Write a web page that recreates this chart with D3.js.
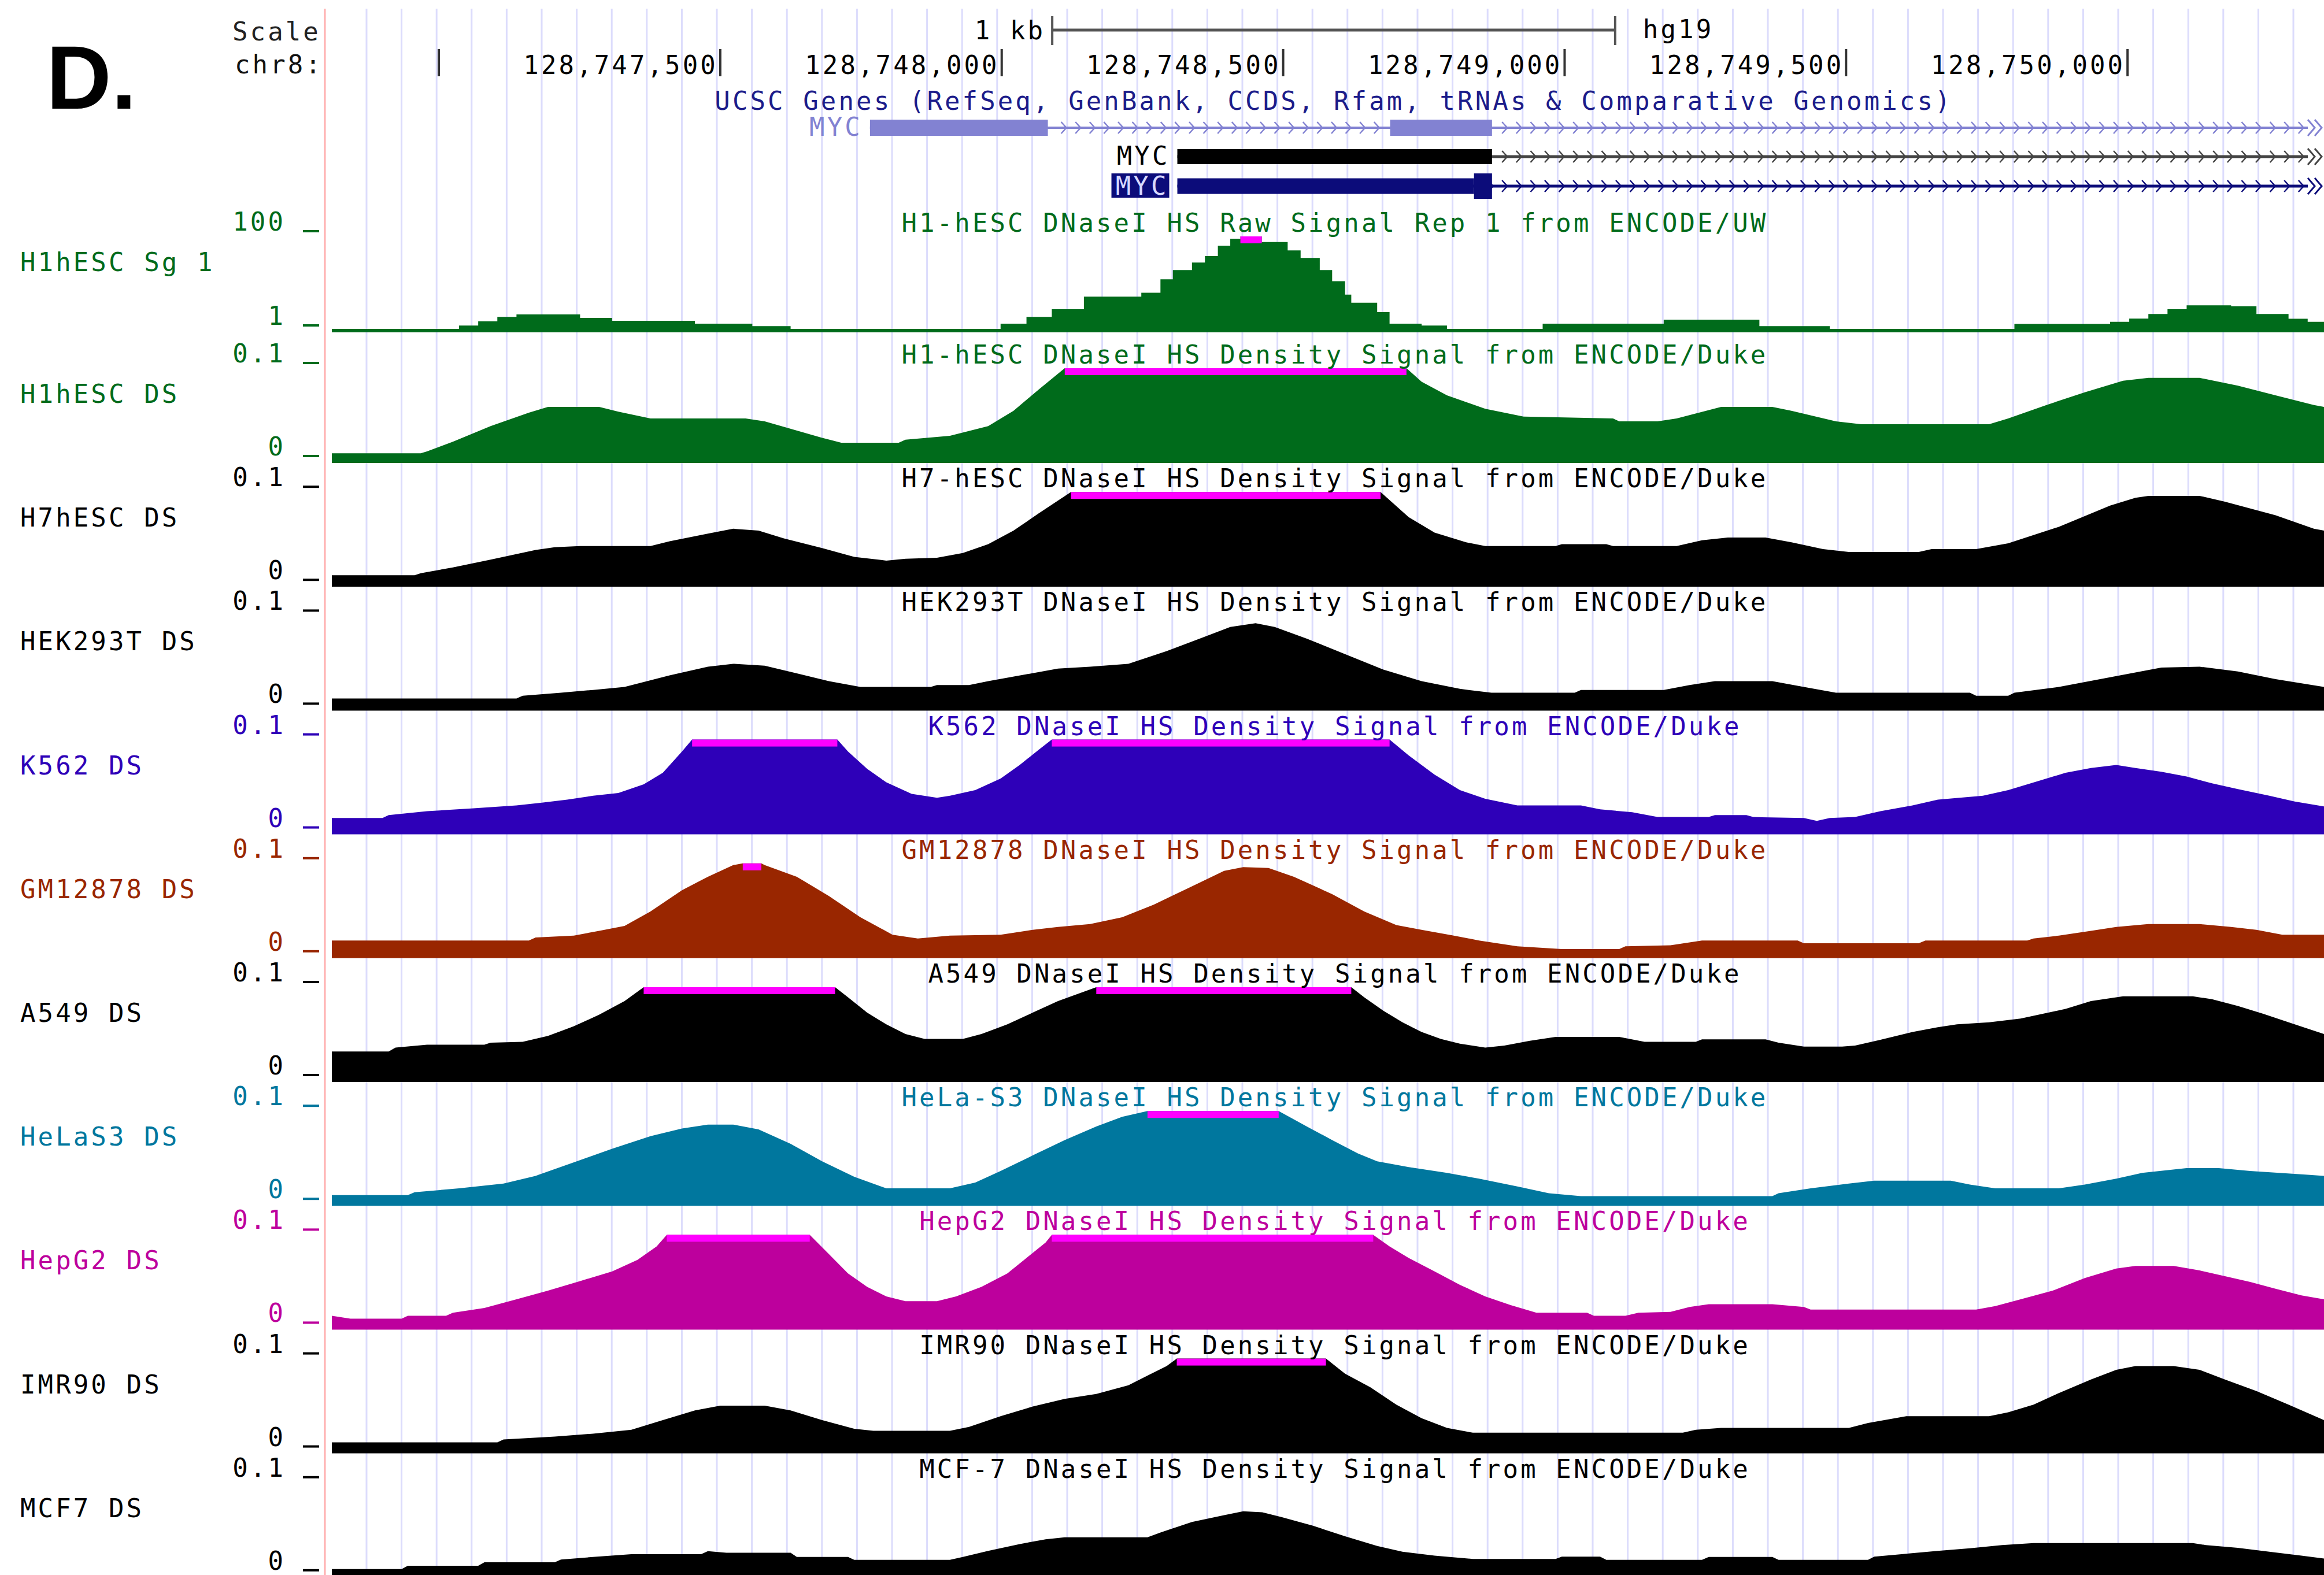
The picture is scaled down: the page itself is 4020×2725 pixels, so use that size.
<!DOCTYPE html>
<html>
<head>
<meta charset="utf-8">
<script src="https://cdn.jsdelivr.net/npm/d3@7"></script>
<style>
  body { margin: 0; background: #fff; }
  text { font-family: "DejaVu Sans Mono", monospace; font-size: 44px; letter-spacing: 4.1px; }
</style>
</head>
<body>
<svg id="chart" width="4020" height="2725"></svg>
<script>
// window on chr8 (hg19)
const winStart = 128746810;
const winEnd = 128750349;

const rulerTicks = [128747000, 128747500, 128748000, 128748500, 128749000, 128749500, 128750000];
const rulerLabels = ["", "128,747,500", "128,748,000", "128,748,500", "128,749,000", "128,749,500", "128,750,000"];

// gene models, positions in bp from winStart
const geneLabels = ["MYC", "MYC", "MYC"];
const geneExons = [[[956, 1272], [1880, 2061]], [[1502, 2061]], [[1502, 2029]]];
const geneCds = [[], [], [[2029, 2061]]];

const trackNames = ["H1hESC Sg 1", "H1hESC DS", "H7hESC DS", "HEK293T DS", "K562 DS", "GM12878 DS",
  "A549 DS", "HeLaS3 DS", "HepG2 DS", "IMR90 DS", "MCF7 DS"];
const trackTitles = [
  "H1-hESC DNaseI HS Raw Signal Rep 1 from ENCODE/UW",
  "H1-hESC DNaseI HS Density Signal from ENCODE/Duke",
  "H7-hESC DNaseI HS Density Signal from ENCODE/Duke",
  "HEK293T DNaseI HS Density Signal from ENCODE/Duke",
  "K562 DNaseI HS Density Signal from ENCODE/Duke",
  "GM12878 DNaseI HS Density Signal from ENCODE/Duke",
  "A549 DNaseI HS Density Signal from ENCODE/Duke",
  "HeLa-S3 DNaseI HS Density Signal from ENCODE/Duke",
  "HepG2 DNaseI HS Density Signal from ENCODE/Duke",
  "IMR90 DNaseI HS Density Signal from ENCODE/Duke",
  "MCF-7 DNaseI HS Density Signal from ENCODE/Duke"];
const trackColors = ["rgb(0,107,27)", "rgb(0,107,27)", "#000", "#000", "rgb(46,0,184)", "rgb(153,38,0)",
  "#000", "rgb(0,119,158)", "rgb(189,0,157)", "#000", "#000"];
const axisMax = [100, 0.1, 0.1, 0.1, 0.1, 0.1, 0.1, 0.1, 0.1, 0.1, 0.1];
const axisMin = [1, 0, 0, 0, 0, 0, 0, 0, 0, 0, 0];

// signals: [bp from winStart, value]
const h1Raw = [[0,1],[226,4.5],[260,9],[294,13.8],[328,16.5],[441,12.8],[498,9.7],[645,6.6],[747,3.9],[815,1],
  [1188,6.6],[1234,13.8],[1279,22],[1336,35.5],[1438,39.6],[1472,54],[1494,64],[1528,72],[1551,79],[1574,90],
  [1596,97.5],[1614,110],[1652,94],[1698,85],[1721,77],[1755,64],[1777,52],[1800,37.6],[1811,29],[1857,19],
  [1879,6.6],[1936,4.5],[1981,1],[2151,6.6],[2366,10.7],[2536,3.9],[2661,1],[2989,6.2],[3159,8.6],[3193,12],
  [3227,16.9],[3261,22],[3295,26.2],[3374,25.2],[3419,16.9],[3476,11.8],[3510,8.6],[3539,8.6]];
const h1DS = [[0,0.0102],[158,0.0102],[169,0.0122],[215,0.0224],[282,0.0388],[350,0.0531],[384,0.0592],[475,0.0592],
  [509,0.0541],[566,0.0469],[735,0.0469],[769,0.0439],[871,0.0265],[905,0.0214],[1007,0.0214],[1019,0.0245],
  [1098,0.0286],[1166,0.0388],[1211,0.0551],[1256,0.0776],[1302,0.105],[1909,0.105],[1936,0.0857],[1981,0.0714],
  [2049,0.0571],[2117,0.049],[2276,0.0469],[2287,0.0439],[2355,0.0439],[2389,0.0469],[2468,0.0592],[2559,0.0592],
  [2593,0.0551],[2672,0.0439],[2717,0.0408],[2944,0.0408],[2978,0.0469],[3046,0.0612],[3114,0.0745],[3182,0.0867],
  [3227,0.0898],[3318,0.0898],[3386,0.0816],[3453,0.0714],[3521,0.0612],[3539,0.0592]];
const h7DS = [[0,0.0122],[147,0.0122],[158,0.0143],[215,0.0204],[282,0.0286],[362,0.0388],[396,0.0418],[441,0.0429],
  [566,0.0429],[600,0.048],[668,0.0561],[713,0.0612],[758,0.0592],[803,0.051],[871,0.0408],[928,0.0316],[985,0.0276],
  [1019,0.0296],[1075,0.0306],[1121,0.0357],[1166,0.0449],[1211,0.0592],[1256,0.0776],[1313,0.105],[1863,0.105],
  [1913,0.0735],[1959,0.0571],[2015,0.0469],[2049,0.0429],[2174,0.0429],[2185,0.0449],[2264,0.0449],[2276,0.0429],
  [2389,0.0429],[2434,0.049],[2480,0.052],[2547,0.052],[2593,0.0469],[2649,0.0398],[2695,0.0367],[2819,0.0367],
  [2842,0.0398],[2921,0.0398],[2978,0.0459],[3068,0.0633],[3159,0.0857],[3204,0.0939],[3227,0.0959],[3318,0.0959],
  [3363,0.0898],[3453,0.0755],[3521,0.0612],[3539,0.0592]];
const hek293tDS = [[0,0.0127],[328,0.0127],[339,0.0157],[407,0.0188],[464,0.0218],[520,0.0249],[600,0.0371],
  [668,0.0463],[713,0.0494],[769,0.0473],[826,0.0392],[883,0.031],[939,0.0249],[1064,0.0249],[1075,0.0269],
  [1132,0.0269],[1166,0.031],[1290,0.0443],[1347,0.0463],[1415,0.0494],[1483,0.0627],[1551,0.078],[1596,0.0882],
  [1641,0.0922],[1675,0.0882],[1732,0.0759],[1800,0.0596],[1868,0.0433],[1936,0.031],[2004,0.0229],[2060,0.0188],
  [2208,0.0188],[2219,0.0218],[2366,0.0218],[2412,0.0269],[2457,0.031],[2559,0.031],[2615,0.0249],[2672,0.0188],
  [2910,0.0188],[2921,0.0157],[2978,0.0157],[2989,0.0188],[3068,0.0249],[3159,0.0351],[3250,0.0453],[3318,0.0463],
  [3386,0.0412],[3453,0.0331],[3539,0.0249]];
const k562DS = [[0,0.0173],[90,0.0173],[101,0.0203],[169,0.0244],[248,0.0274],[328,0.0305],[373,0.0335],[418,0.0366],
  [464,0.0407],[509,0.0437],[554,0.0528],[588,0.065],[622,0.0874],[640,0.105],[898,0.105],[917,0.0874],[951,0.0691],
  [985,0.0549],[1030,0.0427],[1075,0.0386],[1098,0.0407],[1143,0.0467],[1188,0.0589],[1222,0.0732],[1256,0.0894],
  [1279,0.105],[1879,0.105],[1913,0.0833],[1959,0.063],[2004,0.0467],[2049,0.0376],[2106,0.0305],[2219,0.0305],
  [2253,0.0264],[2310,0.0234],[2355,0.0183],[2446,0.0183],[2457,0.0203],[2513,0.0203],[2525,0.0183],[2615,0.0173],
  [2638,0.0142],[2661,0.0173],[2706,0.0183],[2751,0.0244],[2808,0.0305],[2853,0.0366],[2933,0.0407],[2978,0.0467],
  [3035,0.0569],[3080,0.065],[3125,0.0701],[3170,0.0732],[3204,0.0701],[3250,0.0661],[3295,0.061],[3340,0.0539],
  [3386,0.0478],[3442,0.0407],[3487,0.0346],[3539,0.0295]];
const gm12878DS = [[0,0.0187],[350,0.0187],[362,0.0218],[430,0.0238],[475,0.0289],[520,0.034],[566,0.0493],
  [622,0.0717],[668,0.0859],[713,0.0982],[730,0.102],[763,0.102],[769,0.0982],[826,0.0859],[883,0.0656],[939,0.0432],
  [996,0.0248],[1041,0.0208],[1098,0.0238],[1188,0.0248],[1245,0.0299],[1290,0.033],[1347,0.036],[1404,0.0432],
  [1460,0.0564],[1528,0.0758],[1585,0.0921],[1619,0.0961],[1664,0.0951],[1709,0.0859],[1777,0.0676],[1834,0.0493],
  [1891,0.035],[1936,0.0299],[1993,0.0238],[2038,0.0187],[2106,0.0126],[2185,0.0096],[2287,0.0096],[2298,0.0126],
  [2378,0.0136],[2434,0.0187],[2604,0.0187],[2615,0.0157],[2819,0.0157],[2831,0.0187],[3012,0.0187],[3023,0.0208],
  [3068,0.0238],[3125,0.0289],[3170,0.033],[3227,0.036],[3318,0.036],[3374,0.033],[3419,0.0299],[3465,0.0248],
  [3539,0.0248]];
const a549DS = [[0,0.0322],[101,0.0322],[113,0.0363],[169,0.0394],[271,0.0394],[282,0.0414],[339,0.0424],[384,0.0486],
  [430,0.0588],[475,0.071],[520,0.0853],[554,0.105],[894,0.105],[917,0.0894],[951,0.0731],[985,0.0608],[1019,0.0506],
  [1053,0.0455],[1121,0.0455],[1154,0.0506],[1200,0.0608],[1245,0.0731],[1290,0.0853],[1358,0.105],[1811,0.105],
  [1834,0.0894],[1868,0.0751],[1902,0.0629],[1936,0.0527],[1970,0.0455],[2004,0.0404],[2049,0.0363],[2083,0.0384],
  [2128,0.0435],[2174,0.0476],[2287,0.0476],[2332,0.0424],[2423,0.0424],[2434,0.0449],[2547,0.0449],[2570,0.0414],
  [2615,0.0373],[2683,0.0373],[2706,0.0384],[2751,0.0445],[2808,0.0527],[2853,0.0578],[2887,0.0608],[2944,0.0629],
  [3000,0.0669],[3080,0.0771],[3125,0.0853],[3182,0.0904],[3306,0.0904],[3340,0.0873],[3386,0.0802],[3431,0.072],
  [3487,0.0608],[3539,0.0506]];
const helaS3DS = [[0,0.0112],[135,0.0112],[147,0.0143],[226,0.0184],[305,0.0235],[362,0.0316],[430,0.0459],
  [498,0.0602],[566,0.0735],[622,0.0816],[668,0.0857],[713,0.0857],[758,0.0806],[815,0.0653],[871,0.0469],
  [928,0.0306],[985,0.0184],[1098,0.0184],[1143,0.0245],[1188,0.0367],[1245,0.0531],[1302,0.0694],[1358,0.0837],
  [1404,0.0939],[1449,0.105],[1682,0.105],[1732,0.0837],[1777,0.0694],[1823,0.0551],[1857,0.0469],[1913,0.0408],
  [1981,0.0347],[2038,0.0286],[2106,0.0204],[2162,0.0133],[2219,0.0102],[2559,0.0102],[2570,0.0133],[2627,0.0184],
  [2695,0.0235],[2740,0.0265],[2876,0.0265],[2910,0.0224],[2955,0.0184],[3068,0.0184],[3114,0.0224],[3170,0.0286],
  [3216,0.0347],[3295,0.0398],[3352,0.0398],[3408,0.0367],[3487,0.0337],[3539,0.0316]];
const hepg2DS = [[0,0.0146],[33,0.0116],[124,0.0116],[135,0.0146],[203,0.0146],[215,0.0177],[271,0.0228],[328,0.0319],
  [384,0.0411],[441,0.0512],[498,0.0614],[543,0.0736],[577,0.0878],[595,0.105],[849,0.105],[883,0.0797],[917,0.0593],
  [951,0.0451],[985,0.035],[1019,0.0299],[1075,0.0299],[1109,0.035],[1154,0.0451],[1200,0.0593],[1234,0.0756],
  [1268,0.0919],[1279,0.105],[1850,0.105],[1879,0.0878],[1913,0.0756],[1959,0.0614],[2004,0.0472],[2049,0.035],
  [2094,0.0258],[2140,0.0177],[2230,0.0177],[2242,0.0146],[2298,0.0146],[2321,0.0177],[2378,0.0187],[2412,0.0238],
  [2446,0.0268],[2559,0.0268],[2615,0.0238],[2627,0.0211],[2921,0.0211],[2955,0.0248],[3000,0.0319],[3057,0.0411],
  [3114,0.0543],[3170,0.0644],[3204,0.0671],[3272,0.0671],[3318,0.0624],[3363,0.0563],[3408,0.0502],[3453,0.0431],
  [3499,0.036],[3539,0.0319]];
const imr90DS = [[0,0.0116],[294,0.0116],[305,0.0147],[396,0.0178],[464,0.0208],[532,0.0249],[588,0.0351],
  [645,0.0453],[690,0.0504],[769,0.0504],[815,0.0453],[871,0.0351],[928,0.0259],[962,0.0239],[1098,0.0239],
  [1132,0.028],[1188,0.0392],[1245,0.0494],[1302,0.0576],[1358,0.0627],[1415,0.0718],[1449,0.082],[1483,0.0922],
  [1501,0.105],[1766,0.105],[1800,0.0841],[1845,0.0698],[1891,0.0514],[1936,0.0371],[1981,0.0269],[2027,0.0218],
  [2400,0.0218],[2423,0.0249],[2468,0.0269],[2695,0.0269],[2729,0.032],[2797,0.0392],[2944,0.0392],[2978,0.0433],
  [3023,0.0514],[3068,0.0637],[3125,0.078],[3170,0.0882],[3204,0.0922],[3272,0.0922],[3318,0.0882],[3363,0.078],
  [3419,0.0657],[3476,0.0514],[3539,0.0351]];
const mcf7DS = [[0,0.0085],[124,0.0085],[135,0.012],[260,0.012],[271,0.0157],[396,0.0157],[407,0.0187],[464,0.0213],
  [532,0.0242],[656,0.0242],[668,0.0274],[701,0.0258],[815,0.0258],[826,0.0213],[917,0.0213],[928,0.0183],
  [1098,0.0183],[1121,0.0213],[1166,0.0278],[1222,0.035],[1268,0.04],[1302,0.0421],[1449,0.0421],[1472,0.0472],
  [1528,0.0583],[1585,0.0654],[1619,0.0695],[1653,0.0685],[1687,0.0634],[1743,0.0543],[1800,0.0431],[1857,0.0329],
  [1902,0.0268],[1959,0.0228],[2027,0.0193],[2174,0.0193],[2185,0.0217],[2253,0.0217],[2264,0.0183],[2434,0.0183],
  [2446,0.0213],[2559,0.0213],[2570,0.0183],[2729,0.0183],[2740,0.0217],[2797,0.0248],[2853,0.0278],[2910,0.0305],
  [2967,0.0339],[3023,0.036],[3306,0.036],[3329,0.0339],[3386,0.0309],[3442,0.0268],[3499,0.0228],[3539,0.0197]];

const trackData = [h1Raw, h1DS, h7DS, hek293tDS, k562DS, gm12878DS, a549DS, helaS3DS, hepg2DS, imr90DS, mcf7DS];

// ---- layout
const svg = d3.select("#chart");
const W = 4020, H = 2725;
const dataLeft = 574, midX = 2307;
const x = d3.scaleLinear().domain([winStart, winEnd]).range([dataLeft, W]);
const xo = off => x(winStart + off);

// base position guide lines
svg.append("g").selectAll("line").data(d3.range(634, W, 60.6)).enter().append("line")
  .attr("x1", d => d).attr("x2", d => d).attr("y1", 15).attr("y2", H)
  .attr("stroke", "#dcdcfc").attr("stroke-width", 3);
svg.append("line").attr("x1", 562).attr("x2", 562).attr("y1", 15).attr("y2", H)
  .attr("stroke", "#ffb0b0").attr("stroke-width", 3);

// panel letter
svg.append("text").attr("x", 80).attr("y", 188).text("D.")
  .style("font-family", "'Liberation Sans', Arial, sans-serif").style("font-weight", "bold")
  .style("font-size", "156px").style("letter-spacing", "0px");

// ruler
svg.append("text").attr("x", 402).attr("y", 70).attr("fill", "#222").text("Scale");
svg.append("text").attr("x", 406).attr("y", 127).attr("fill", "#111").text("chr8:");

const halfKb = (x(winStart + 1000) - x(winStart)) / 2;
const barL = midX - halfKb, barR = midX + halfKb;
const bar = svg.append("g").attr("stroke", "#555").attr("stroke-width", 4);
bar.append("line").attr("x1", barL).attr("x2", barR).attr("y1", 52).attr("y2", 52).attr("stroke-width", 5);
bar.append("line").attr("x1", barL).attr("x2", barL).attr("y1", 28).attr("y2", 78);
bar.append("line").attr("x1", barR).attr("x2", barR).attr("y1", 28).attr("y2", 78);
svg.append("text").attr("x", barL - 12).attr("y", 68).attr("text-anchor", "end").text("1 kb");
svg.append("text").attr("x", barR + 48).attr("y", 66).text("hg19");

const rt = svg.append("g");
rt.selectAll("line").data(rulerTicks).enter().append("line")
  .attr("x1", d => x(d)).attr("x2", d => x(d)).attr("y1", 85).attr("y2", 132)
  .attr("stroke", "#333").attr("stroke-width", 4);
rt.selectAll("text").data(rulerTicks).enter().append("text")
  .attr("x", d => x(d) - 4).attr("y", 128).attr("text-anchor", "end")
  .text((d, i) => rulerLabels[i]);

// gene track
svg.append("text").attr("x", midX).attr("y", 190).attr("text-anchor", "middle").attr("fill", "#1c1c8a")
  .text("UCSC Genes (RefSeq, GenBank, CCDS, Rfam, tRNAs & Comparative Genomics)");

const geneRows = [
  { y: 221, h: 28, color: "#8282d2", line: "#8282d2", lw: 4 },
  { y: 271, h: 26, color: "#000", line: "#444", lw: 5 },
  { y: 322, h: 27, color: "#0c0c7a", line: "#0c0c7a", lw: 5 }
];
geneRows.forEach((r, i) => {
  const g = svg.append("g");
  const ex = geneExons[i];
  const start = xo(ex[0][0]);
  const endX = 3992;
  g.append("line").attr("x1", start).attr("x2", endX).attr("y1", r.y).attr("y2", r.y)
    .attr("stroke", r.line).attr("stroke-width", r.lw);
  // strand chevrons on the intron/continuation
  const chev = d3.range(dataLeft + 12, endX - 6, 24.6).filter(c => {
    if (c < start || c > endX) return false;
    return !ex.some(e => c > xo(e[0]) - 6 && c < xo(e[1]) + 6);
  });
  g.selectAll("path.chev").data(chev).enter().append("path")
    .attr("d", c => `M${c - 5},${r.y - 10}L${c + 4},${r.y}L${c - 5},${r.y + 10}`)
    .attr("fill", "none").attr("stroke", r.line).attr("stroke-width", 2.5);
  g.selectAll("rect.ex").data(ex).enter().append("rect")
    .attr("x", e => xo(e[0])).attr("width", e => xo(e[1]) - xo(e[0]))
    .attr("y", r.y - r.h / 2).attr("height", r.h).attr("fill", r.color);
  g.selectAll("rect.cds").data(geneCds[i]).enter().append("rect")
    .attr("x", e => xo(e[0])).attr("width", e => xo(e[1]) - xo(e[0]))
    .attr("y", r.y - 22).attr("height", 44).attr("fill", r.color);
  // continuation mark at the right edge
  g.append("path")
    .attr("d", `M${endX},${r.y - 14}L${endX + 12},${r.y}L${endX},${r.y + 14}M${endX + 12},${r.y - 14}L${endX + 24},${r.y}L${endX + 12},${r.y + 14}`)
    .attr("fill", "none").attr("stroke", r.line).attr("stroke-width", 3);
  // label
  const lx = start - 18;
  if (i === 2) {
    g.append("rect").attr("x", lx - 96).attr("y", r.y - 22).attr("width", 100).attr("height", 42)
      .attr("fill", "#0c0c7a");
    g.append("text").attr("x", lx + 3).attr("y", r.y + 15).attr("text-anchor", "end")
      .attr("fill", "#d8d8ff").text(geneLabels[i]);
  } else {
    g.append("text").attr("x", lx + 5).attr("y", r.y + 14).attr("text-anchor", "end")
      .attr("fill", r.color).text(geneLabels[i]);
  }
});

// signal tracks
trackData.forEach((data, i) => {
  const top = i === 0 ? 409 : 637 + (i - 1) * 214.2;
  const base = i === 0 ? 575 : top + 164;
  const col = trackColors[i];
  const g = svg.append("g");
  const y = d3.scaleLinear().domain([axisMin[i], axisMax[i]])
    .range([i === 0 ? base - 6 : base, top]).clamp(true);
  const area = d3.area()
    .x(d => xo(d[0])).y0(base).y1(d => y(d[1]))
    .curve(i === 0 ? d3.curveStepAfter : d3.curveLinear);
  g.append("path").datum(data).attr("d", area).attr("fill", col);

  // clipped (over view limit) segments
  const clipSeg = [];
  for (let k = 0; k < data.length - 1; k++) {
    const over = i === 0 ? data[k][1] > axisMax[i] : (data[k][1] > axisMax[i] && data[k + 1][1] > axisMax[i]);
    if (over) clipSeg.push([data[k][0], data[k + 1][0]]);
  }
  g.selectAll("rect.clip").data(clipSeg).enter().append("rect")
    .attr("x", s => xo(s[0])).attr("width", s => xo(s[1]) - xo(s[0]))
    .attr("y", top).attr("height", 12).attr("fill", "#ff00ff");

  g.append("text").attr("x", midX + 2).attr("y", top - 8).attr("text-anchor", "middle")
    .attr("fill", col).text(trackTitles[i]);
  g.append("text").attr("x", 35).attr("y", top + 60).attr("fill", col).text(trackNames[i]);
  g.append("text").attr("x", 494).attr("y", top - 10).attr("text-anchor", "end")
    .attr("fill", col).text(axisMax[i]);
  g.append("text").attr("x", 494).attr("y", base - 13).attr("text-anchor", "end")
    .attr("fill", col).text(axisMin[i]);
  g.append("line").attr("x1", 524).attr("x2", 552).attr("y1", top - 9).attr("y2", top - 9)
    .attr("stroke", col).attr("stroke-width", 4);
  g.append("line").attr("x1", 524).attr("x2", 552).attr("y1", base - 12).attr("y2", base - 12)
    .attr("stroke", col).attr("stroke-width", 4);
});
</script>
</body>
</html>
